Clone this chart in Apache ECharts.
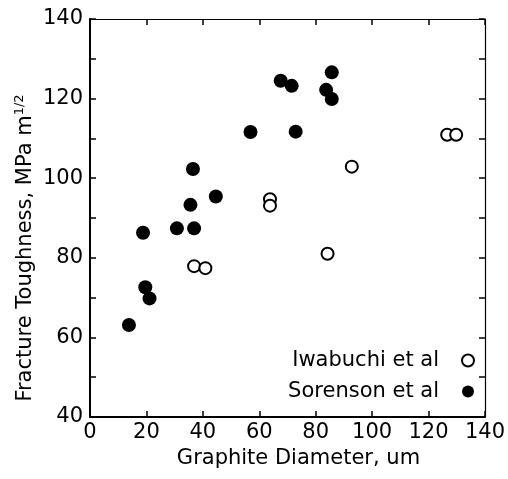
<!DOCTYPE html>
<html>
<head>
<meta charset="utf-8">
<script src="https://cdn.jsdelivr.net/npm/echarts@6/dist/echarts.min.js"></script>
<style>
  html, body { margin: 0; padding: 0; background: #fff; }
  #chart { width: 508px; height: 479px; }
</style>
</head>
<body>
<div id="chart"></div>
<script>
// graphite diameter (um) vs fracture toughness (MPa m^1/2)
const sorenson = [
  [13.8, 63.1], [19.6, 72.6], [21.1, 69.8], [18.8, 86.3], [30.8, 87.4],
  [36.9, 87.4], [35.6, 93.3], [36.5, 102.3], [44.6, 95.4], [56.9, 111.6],
  [67.6, 124.5], [71.5, 123.2], [72.9, 111.7], [83.7, 122.2], [85.7, 126.6],
  [85.7, 119.9]
];
const iwabuchi = [
  [36.9, 77.9], [40.9, 77.4], [63.8, 94.7], [63.8, 93.1], [84.2, 81.0],
  [92.8, 102.9], [126.6, 110.9], [129.8, 110.9]
];
const xRange = [0, 140];
const yRange = [40, 140];

const FONT = 'DejaVu Sans';
const myChart = echarts.init(document.getElementById('chart'));

const tick = { show: true, inside: true, length: 6, lineStyle: { color: '#000', width: 1.5 } };

let option = {
  animation: false,
  backgroundColor: '#fff',
  textStyle: { fontFamily: FONT, color: '#000' },
  grid: { left: 90, right: 23, top: 19, bottom: 62 },
  legend: {
    orient: 'vertical',
    align: 'right',
    right: 28,
    top: 345,
    itemGap: 10,
    itemWidth: 12,
    itemHeight: 12,
    textStyle: { fontFamily: FONT, fontSize: 21, color: '#000', padding: [0, 18, 0, 0] },
    data: ['Iwabuchi et al', 'Sorenson et al']
  },
  xAxis: [
    {
      type: 'value', position: 'bottom', min: xRange[0], max: xRange[1], interval: 20,
      name: 'Graphite Diameter, um', nameLocation: 'middle', nameGap: 24,
      nameTextStyle: { fontFamily: FONT, fontSize: 21, color: '#000', padding: [0, 0, 0, 22] },
      axisLine: { onZero: false, lineStyle: { color: '#000', width: 2 } },
      axisTick: tick,
      axisLabel: { fontFamily: FONT, fontSize: 21, color: '#000', margin: 5 },
      splitLine: { show: false }
    },
    {
      type: 'value', position: 'top', min: xRange[0], max: xRange[1], interval: 20,
      axisLine: { onZero: false, lineStyle: { color: '#000', width: 1.2 } },
      axisTick: tick,
      axisLabel: { show: false },
      splitLine: { show: false }
    }
  ],
  yAxis: [
    {
      type: 'value', position: 'left', min: yRange[0], max: yRange[1], interval: 10,
      name: '{t|Fracture Toughness, MPa m}{s|1/2}', nameLocation: 'middle', nameGap: 52,
      nameMoveOverlap: false,
      nameTextStyle: {
        fontFamily: FONT, fontSize: 21, color: '#000', padding: [0, 60, 0, 0],
        rich: {
          t: { fontFamily: FONT, fontSize: 21, color: '#000' },
          s: { fontFamily: FONT, fontSize: 13, color: '#000', padding: [0, 0, 12, 0] }
        }
      },
      axisLine: { onZero: false, lineStyle: { color: '#000', width: 2 } },
      axisTick: tick,
      axisLabel: {
        fontFamily: FONT, fontSize: 21, color: '#000', margin: 7,
        formatter: v => (v % 20 === 0 ? String(v) : '')
      },
      splitLine: { show: false }
    },
    {
      type: 'value', position: 'right', min: yRange[0], max: yRange[1], interval: 10,
      axisLine: { onZero: false, lineStyle: { color: '#000', width: 1.2 } },
      axisTick: tick,
      axisLabel: { show: false },
      splitLine: { show: false }
    }
  ],
  series: [
    {
      name: 'Iwabuchi et al',
      type: 'scatter',
      symbol: 'circle',
      symbolSize: 12,
      itemStyle: { color: '#fff', borderColor: '#000', borderWidth: 2, opacity: 1 },
      data: iwabuchi,
      z: 3
    },
    {
      name: 'Sorenson et al',
      type: 'scatter',
      symbol: 'circle',
      symbolSize: 14,
      itemStyle: { color: '#000', opacity: 1 },
      data: sorenson,
      z: 4
    }
  ]
};

myChart.setOption(option);
</script>
</body>
</html>
